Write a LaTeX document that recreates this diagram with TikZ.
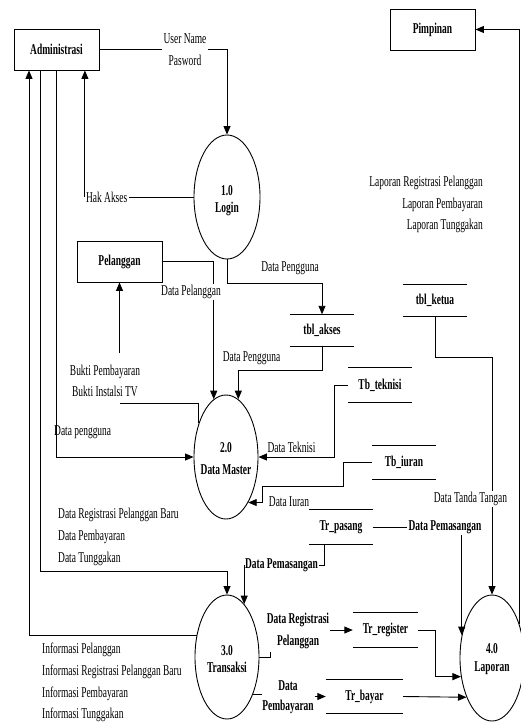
\documentclass[tikz,border=0pt]{standalone}
\usepackage{fontspec}
\setmainfont{Liberation Serif}[FakeStretch=0.63]
\usetikzlibrary{arrows.meta,shapes.geometric,calc}
\begin{document}
\begin{tikzpicture}[x=1pt,y=-1pt,
  every node/.style={font=\fontsize{15}{21.7}\selectfont, inner sep=1pt},
  ln/.style={line width=0.9pt},
  arr/.style={ln, -{Triangle[length=8.5pt,width=7pt]}},
  ent/.style={draw, line width=0.9pt, minimum width=85pt, minimum height=41pt, font=\fontsize{15}{17}\selectfont\bfseries},
  proc/.style={draw, ellipse, line width=0.9pt, inner sep=0pt, minimum width=64pt, minimum height=124pt},
  ptxt/.style={align=center, font=\fontsize{15}{17.5}\selectfont\bfseries},
  store/.style={minimum width=64pt, minimum height=32pt, inner sep=0pt, font=\fontsize{15}{17}\selectfont\bfseries},
  lbl/.style={align=center},
  blbl/.style={align=center, font=\fontsize{15}{21.7}\selectfont\bfseries},
]
\useasboundingbox (0,0) rectangle (521,722);

% external entities
\node[ent] (adm) at (56.5,49.5) {Administrasi};
\node[ent] (pim) at (432.5,29.5) {Pimpinan};
\node[ent] (pel) at (119.5,261.5) {Pelanggan};

% processes
\node[proc, minimum width=66pt] (login) at (227,197) {};
\node[proc] (dm) at (226,457) {};
\node[proc] (trans) at (227,657) {};
\node[proc, minimum height=126pt] (lap) at (492,658) {};
\node[ptxt] (logint) at (227,200.5) {1.0\\Login};
\node[ptxt, font=\fontsize{15}{22}\selectfont\bfseries] (dmt) at (226,459) {2.0\\Data Master};
\node[ptxt] (transt) at (227,659) {3.0\\Transaksi};
\node[ptxt] (lapt) at (492,659) {4.0\\Laporan};

% data stores
\node[store] (akses) at (322,330.5) {tbl\_akses};
\node[store] (ketua) at (435,300.5) {tbl\_ketua};
\node[store, minimum height=34pt] (teknisi) at (380,385) {Tb\_teknisi};
\node[store, minimum height=33pt] (iuran) at (404,462.5) {Tb\_iuran};
\node[store, minimum width=63pt, minimum height=34pt] (pasang) at (341,527) {Tr\_pasang};
\node[store, minimum width=65pt, minimum height=34pt] (register) at (385.5,630) {Tr\_register};
\node[store, minimum width=77pt, minimum height=33pt] (bayar) at (364.5,696.5) {Tr\_bayar};
\foreach \s in {akses,ketua,teknisi,iuran,pasang,register,bayar}
  \draw[ln] (\s.north west) -- (\s.north east) (\s.south west) -- (\s.south east);

% labels
\node[lbl] (un) at (185,50) {User Name\\Pasword};
\node (hak) at (106.7,197) {Hak Akses};
\node[lbl] (bukti) at (105,381) {Bukti Pembayaran\\Bukti Instalsi TV};
\node[anchor=west] (dpeng) at (53,432) {Data pengguna};
\node (dpg1) at (290,268) {Data Pengguna};
\node (dpg2) at (251.5,358) {Data Pengguna};
\node (dtek) at (291.5,447) {Data Teknisi};
\node (diur) at (289,502) {Data Iuran};
\node[blbl] (dp1) at (445,527) {Data Pemasangan};
\node[blbl] (dp2) at (281.5,565) {Data Pemasangan};
\node[blbl] (reglbl) at (298,631) {Data Registrasi\\Pelanggan};
\node[blbl, font=\fontsize{15}{20}\selectfont\bfseries] (paylbl) at (288,697) {Data\\Pembayaran};
\node[align=right, anchor=east] (laptxt) at (484,204.5) {Laporan Registrasi Pelanggan\\Laporan Pembayaran\\Laporan Tunggakan};
\node[align=left, anchor=west] (drtxt) at (57,537) {Data Registrasi Pelanggan Baru\\Data Pembayaran\\Data Tunggakan};
\node[align=left, anchor=west] (inftxt) at (41,682.5) {Informasi Pelanggan\\Informasi Registrasi Pelanggan Baru\\Informasi Pembayaran\\Informasi Tunggakan};

\coordinate (bk1) at (119.5,403);
\coordinate (bk2) at (119.5,353);
\coordinate (iu1) at (262,486);

% connectors
\draw[ln] (adm.east) -- (adm.east -| un.west);
\draw[arr] (un.east |- adm.east) -| (login.north);
\draw[ln] (login.west) -- (hak.east);
\draw[arr] (hak.west) -- (hak.west |- adm.south);
\draw[arr] (trans.145.1) -| (adm.south -| 29,0);
\draw[arr] (adm.south -| 40,0) |- ($(trans.north)+(0,-23)$) -- (trans.north);
\draw[arr] (adm.south -| 56,0) |- (dm.west);
\draw[arr] (pel.east) -| (dm.102.9);
\draw[ln] (dm.129) |- (bk1);
\draw[arr] (bk2) -- (pel.south);
\draw[arr] (login.south) -- ++(0,24) -| (akses.north);
\draw[arr] (akses.south) -- ++(0,24) -| (dm.78.2);
\draw[arr] (teknisi.west) -- ++(-13,0) |- (dm.east);
\draw[arr] (iuran.west) -- ++(-28,0) |- (iu1) |- (dm.296.1);
\draw[ln] (pasang.east) -- (dp1.west);
\draw[arr] (dp1.south -| lap.143.9) -- (lap.143.9);
\draw[ln] (pasang.south -| 324,0) |- (dp2.east);
\draw[arr] (dp2.west -| trans.72.1) -- (trans.72.1);
\draw[ln] (trans.east) -- ++(11,0) -- ++(0,-5);
\draw[arr] (reglbl.east |- register.west) -- (register.west);
\draw[arr] (register.east) -- ++(17,0) |- (lap.211.9);
\draw[ln] (trans.305.8) -- ++(9,0);
\draw[arr] (paylbl.east |- bayar.west) -- (bayar.west);
\draw[arr] (bayar.east) -- (lap.237.2);
\draw[arr] (ketua.south) -- ++(0,41) -| (lap.north);
\draw[arr] (lap.51.4) |- (pim.east);

% labels over lines
\node[fill=white] (dpel) at (191,292) {Data Pelanggan};
\node[fill=white] (dtt) at (470.5,499) {Data Tanda Tangan};
\end{tikzpicture}
\end{document}
